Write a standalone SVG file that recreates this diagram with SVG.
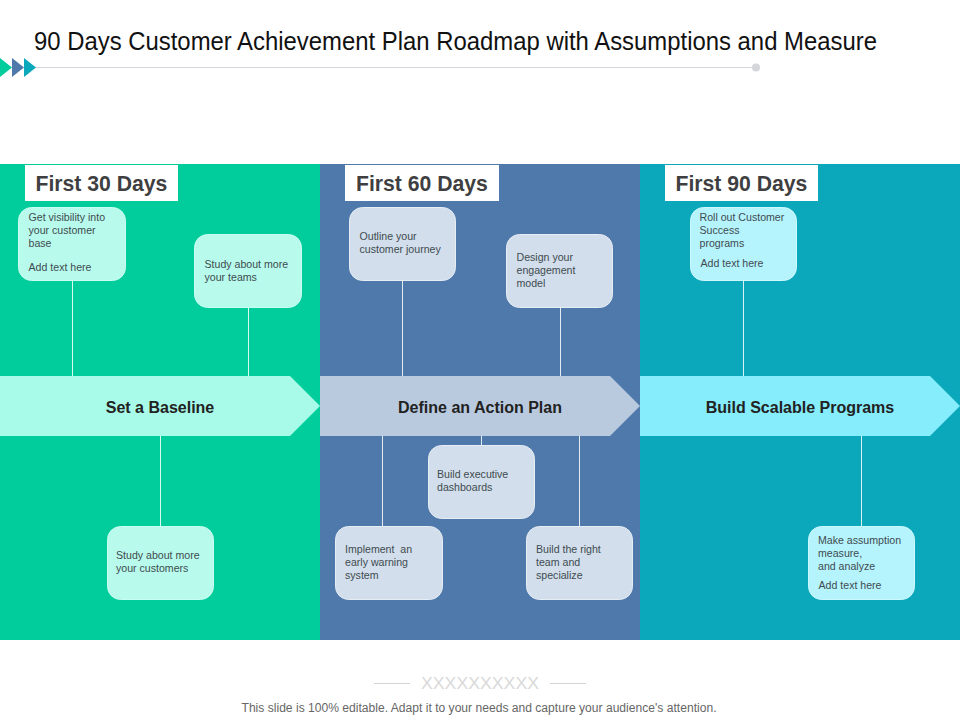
<svg xmlns="http://www.w3.org/2000/svg" width="960" height="720" viewBox="0 0 960 720">
<style>
text{font-family:"Liberation Sans",Arial,sans-serif}
.t{font-size:10.6px;fill:#404b50}
.h{font-size:21.2px;font-weight:700;fill:#3f3f42}
.b{font-size:16px;font-weight:700;fill:#222;text-anchor:middle}
.c{stroke:#fff;stroke-width:1;opacity:.85;fill:none}
.gb{fill:#b8fbec;stroke:#c9fdf1;stroke-width:1}
.bb{fill:#d2deeb;stroke:#e6edf5;stroke-width:1}
.tb{fill:#b6f4fd;stroke:#cdf8fe;stroke-width:1}
</style>
<rect width="960" height="720" fill="#fff"/>
<g id="title">
<text x="34" y="50" font-size="25.5" fill="#111" textLength="843" lengthAdjust="spacingAndGlyphs">90 Days Customer Achievement Plan Roadmap with Assumptions and Measure</text>
<line x1="34" y1="67.500" x2="756" y2="67.500" stroke="#d3d7dc" stroke-width="1"/>
<circle cx="756" cy="67.500" r="4" fill="#d3d7dc"/>
<path d="M0 58L12 67.500L0 77Z" fill="#00cc9c"/><path d="M12 58L24 67.500L12 77Z" fill="#4f79ab"/><path d="M24 58L36 67.500L24 77Z" fill="#0ba7ba"/>
</g>
<g id="panels">
<rect x="0" y="164" width="320" height="476" fill="#00cc9c"/>
<rect x="320" y="164" width="320" height="476" fill="#4f79ab"/>
<rect x="640" y="164" width="320" height="476" fill="#0ba7ba"/>
</g>
<g id="connectors">
<path class="c" d="M72.500 281V376M248.500 308V376M160.500 436V526M402.500 281V376M560.500 308V376M382.500 436V526M481.500 436V445M579.500 436V526M743.500 281V376M861.500 436V526"/>
</g>
<g id="header-30"><rect x="25" y="165" width="153" height="36" fill="#fff"/><text class="h" x="35.500" y="191">First 30 Days</text></g>
<g id="header-60"><rect x="345" y="165" width="154" height="36" fill="#fff"/><text class="h" x="356" y="191">First 60 Days</text></g>
<g id="header-90"><rect x="665" y="165" width="153" height="36" fill="#fff"/><text class="h" x="675.500" y="191">First 90 Days</text></g>
<g id="arrow-baseline"><path d="M0 376H290L320 406L290 436H0Z" fill="#a8fbe8"/><text class="b" x="160" y="412.500">Set a Baseline</text></g>
<g id="arrow-action"><path d="M320 376H610L640 406L610 436H320Z" fill="#b9cadf"/><text class="b" x="480" y="412.500">Define an Action Plan</text></g>
<g id="arrow-programs"><path d="M640 376H930L960 406L930 436H640Z" fill="#86edfc"/><text class="b" x="800" y="412.500">Build Scalable Programs</text></g>
<g id="n1"><rect class="gb" x="18.500" y="207.500" width="107" height="73" rx="13"/><text class="t" x="28.500" y="221">Get visibility into</text><text class="t" x="28.500" y="234">your customer</text><text class="t" x="28.500" y="247">base</text><text class="t" x="28.500" y="270.500">Add text here</text></g>
<g id="n2"><rect class="gb" x="194.500" y="234.500" width="107" height="73" rx="13"/><text class="t" x="204.500" y="268">Study about more</text><text class="t" x="204.500" y="281">your teams</text></g>
<g id="n3"><rect class="gb" x="107.500" y="526.500" width="106" height="73" rx="13"/><text class="t" x="116" y="559">Study about more</text><text class="t" x="116" y="572">your customers</text></g>
<g id="n4"><rect class="bb" x="349.500" y="207.500" width="106" height="73" rx="13"/><text class="t" x="359.500" y="240">Outline your</text><text class="t" x="359.500" y="253">customer journey</text></g>
<g id="n5"><rect class="bb" x="506.500" y="234.500" width="106" height="73" rx="13"/><text class="t" x="516.500" y="261">Design your</text><text class="t" x="516.500" y="274">engagement</text><text class="t" x="516.500" y="287">model</text></g>
<g id="n6"><rect class="bb" x="428.500" y="445.500" width="106" height="73" rx="13"/><text class="t" x="437" y="478">Build executive</text><text class="t" x="437" y="491">dashboards</text></g>
<g id="n7"><rect class="bb" x="335.500" y="526.500" width="107" height="73" rx="13"/><text class="t" x="345" y="553" xml:space="preserve">Implement  an</text><text class="t" x="345" y="566">early warning</text><text class="t" x="345" y="579">system</text></g>
<g id="n8"><rect class="bb" x="526.500" y="526.500" width="106" height="73" rx="13"/><text class="t" x="536" y="553">Build the right</text><text class="t" x="536" y="566">team and</text><text class="t" x="536" y="579">specialize</text></g>
<g id="n9"><rect class="tb" x="690.500" y="207.500" width="106" height="73" rx="13"/><text class="t" x="699.500" y="221">Roll out Customer</text><text class="t" x="699.500" y="234">Success</text><text class="t" x="699.500" y="247">programs</text><text class="t" x="700.500" y="267">Add text here</text></g>
<g id="n10"><rect class="tb" x="808.500" y="526.500" width="106" height="73" rx="13"/><text class="t" x="818" y="544">Make assumption</text><text class="t" x="818" y="557">measure,</text><text class="t" x="818" y="570">and analyze</text><text class="t" x="818.500" y="589">Add text here</text></g>
<g id="footer">
<line x1="374" y1="683.500" x2="410" y2="683.500" stroke="#d5d5d5"/><line x1="550" y1="683.500" x2="586" y2="683.500" stroke="#d5d5d5"/>
<text x="480" y="689" font-size="16" fill="#d9d9d9" text-anchor="middle" textLength="118" lengthAdjust="spacingAndGlyphs">XXXXXXXXXX</text>
<text x="479" y="711.500" font-size="12" fill="#666" text-anchor="middle" textLength="475" lengthAdjust="spacingAndGlyphs">This slide is 100% editable. Adapt it to your needs and capture your audience's attention.</text>
</g>
</svg>
